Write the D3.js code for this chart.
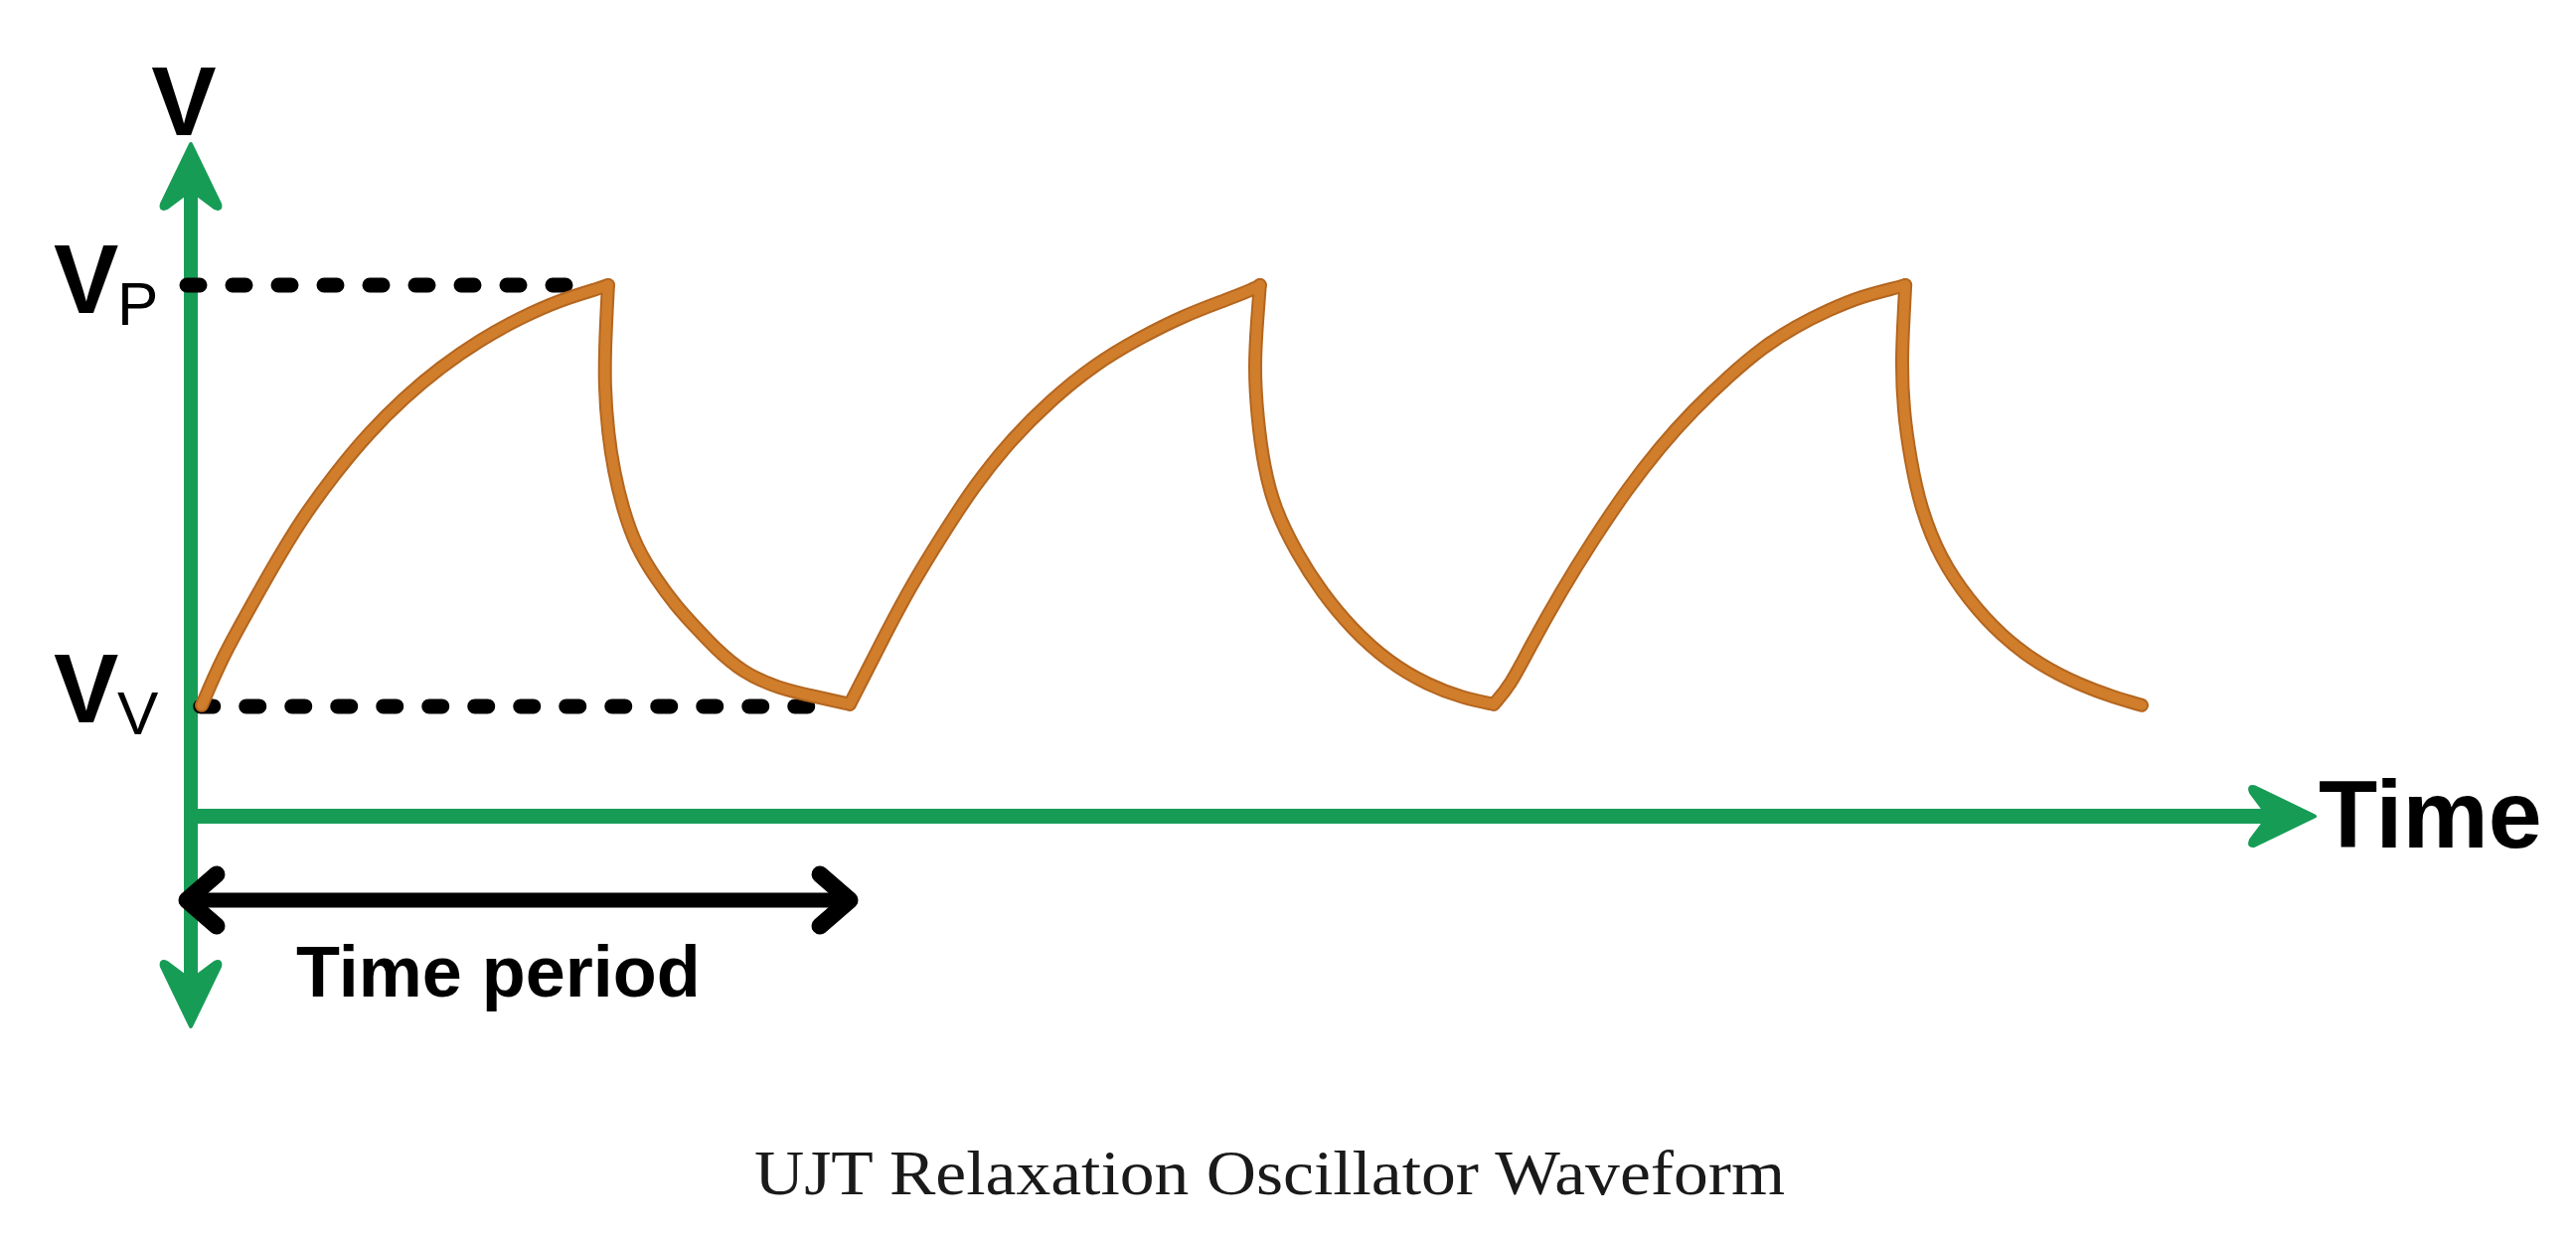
<!DOCTYPE html>
<html>
<head>
<meta charset="utf-8">
<script src="https://cdn.jsdelivr.net/npm/d3@7"></script>
<style>
  body { margin: 0; background: #fff; }
  svg { display: block; }
  text { font-family: "Liberation Sans", Arial, sans-serif; }
</style>
</head>
<body>
<script>
var width = 2592,
    height = 1244;

// time in ms (one period is a little over 1 ms), voltage in V (Vp = 10)
var timeRange  = [0, 3.283];
var voltRange  = [-3.9, 12.6];
var peakVolt   = 10.0;
var valleyVolt = 2.07;
var periodSpan = [0, 1.02];
var peakDots   = [0, 0.58];
var valleyDots = [0.015, 0.96];

// waveform, [t, v], one array per stroke
var rise1 = [[0.017, 2.09], [0.048, 2.97], [0.085, 3.78], [0.125, 4.65], [0.171, 5.59],
             [0.223, 6.45], [0.274, 7.20], [0.331, 7.89], [0.386, 8.45], [0.448, 8.97],
             [0.509, 9.38], [0.571, 9.72], [0.638, 9.96], [0.646, 10.0]];
var drop1 = [[0.646, 10.0], [0.642, 9.07], [0.640, 8.13], [0.646, 7.20], [0.655, 6.49],
             [0.669, 5.78], [0.689, 5.08], [0.720, 4.47], [0.751, 3.96], [0.782, 3.55],
             [0.812, 3.16], [0.854, 2.71], [0.909, 2.41], [0.971, 2.24], [1.020, 2.11]];
var rise2 = [[1.020, 2.11], [1.043, 2.65], [1.074, 3.40], [1.115, 4.34], [1.162, 5.27],
             [1.212, 6.21], [1.269, 7.08], [1.331, 7.83], [1.397, 8.49], [1.469, 9.01],
             [1.540, 9.44], [1.602, 9.72], [1.648, 9.94], [1.655, 10.0]];
var drop2 = [[1.655, 10.0], [1.651, 9.38], [1.646, 8.45], [1.651, 7.51], [1.661, 6.58],
             [1.678, 5.78], [1.712, 4.95], [1.751, 4.21], [1.797, 3.53], [1.854, 2.90],
             [1.915, 2.47], [1.971, 2.22], [2.017, 2.11]];
var rise3 = [[2.017, 2.11], [2.043, 2.47], [2.074, 3.21], [2.120, 4.21], [2.171, 5.21],
             [2.223, 6.15], [2.274, 6.95], [2.325, 7.64], [2.382, 8.30], [2.432, 8.82],
             [2.485, 9.23], [2.535, 9.53], [2.586, 9.79], [2.643, 9.96], [2.654, 10.0]];
var drop3 = [[2.654, 10.0], [2.652, 9.51], [2.648, 8.58], [2.651, 7.64], [2.662, 6.71],
             [2.678, 5.78], [2.709, 4.84], [2.751, 4.09], [2.802, 3.40], [2.863, 2.84],
             [2.925, 2.47], [2.977, 2.24], [3.020, 2.09]];

var axisLabelV  = "V";
var peakLabel   = ["V", "P"];
var valleyLabel = ["V", "V"];
var timeLabel   = "Time";
var periodLabel = "Time period";
var titleText   = "UJT Relaxation Oscillator Waveform";

var green  = "#179c56",
    orange = "#d07d2c",
    orangeEdge = "#b4661f";

var svg = d3.select("body")
    .append("svg")
    .attr("width", width)
    .attr("height", height);

svg.append("rect")
    .attr("width", width)
    .attr("height", height)
    .attr("fill", "#fff");

var x = d3.scaleLinear().domain(timeRange).range([192, 2326]);
var y = d3.scaleLinear().domain(voltRange).range([1030, 148]);

/**
 * Filled notched arrow head, pointing right, tip at the origin.
 */
var headPath = "M3,0 L-57,-29 Q-64,-31 -61,-24 L-43,0 L-61,24 Q-64,31 -57,29 Z";

function arrowHead(g, px, py, angle, colour) {
    g.append("path")
        .attr("d", headPath)
        .attr("transform", "translate(" + px + "," + py + ") rotate(" + angle + ")")
        .attr("fill", colour)
        .attr("stroke", colour)
        .attr("stroke-width", 4)
        .attr("stroke-linejoin", "round");
}

// axes
var axes = svg.append("g");

axes.append("line")
    .attr("x1", x(0)).attr("x2", x(0))
    .attr("y1", y(voltRange[1]) + 12).attr("y2", y(voltRange[0]) - 12)
    .attr("stroke", green)
    .attr("stroke-width", 14);

axes.append("line")
    .attr("x1", x(0) - 6).attr("x2", x(timeRange[1]) - 25)
    .attr("y1", y(0)).attr("y2", y(0))
    .attr("stroke", green)
    .attr("stroke-width", 15);

arrowHead(axes, x(0), y(voltRange[1]), -90, green);
arrowHead(axes, x(0), y(voltRange[0]), 90, green);
arrowHead(axes, x(timeRange[1]), y(0), 0, green);

// dotted Vp and Vv levels
svg.append("line")
    .attr("x1", x(peakDots[0]) - 4).attr("x2", x(peakDots[1]))
    .attr("y1", y(peakVolt)).attr("y2", y(peakVolt))
    .attr("stroke", "#000")
    .attr("stroke-width", 15)
    .attr("stroke-linecap", "round")
    .attr("stroke-dasharray", "13 33");

svg.append("line")
    .attr("x1", x(valleyDots[0])).attr("x2", x(valleyDots[1]))
    .attr("y1", y(valleyVolt)).attr("y2", y(valleyVolt))
    .attr("stroke", "#000")
    .attr("stroke-width", 15)
    .attr("stroke-linecap", "round")
    .attr("stroke-dasharray", "13 33");

// waveform, a darker edge under the orange stroke
var line = d3.line()
    .x(function(d) { return x(d[0]); })
    .y(function(d) { return y(d[1]); })
    .curve(d3.curveBasis);

var strokes = [rise1, drop1, rise2, drop2, rise3, drop3];

[[orangeEdge, 14], [orange, 10]].forEach(function(s) {
    svg.append("g")
        .selectAll("path")
        .data(strokes)
        .enter()
        .append("path")
        .attr("d", line)
        .attr("fill", "none")
        .attr("stroke", s[0])
        .attr("stroke-width", s[1])
        .attr("stroke-linecap", "round")
        .attr("stroke-linejoin", "round");
});

// time period arrow
var periodY = 906;
var period = svg.append("g")
    .attr("stroke", "#000")
    .attr("fill", "none")
    .attr("stroke-linecap", "round")
    .attr("stroke-linejoin", "round");

period.append("line")
    .attr("x1", x(periodSpan[0]) - 2).attr("x2", x(periodSpan[1]) - 4)
    .attr("y1", periodY).attr("y2", periodY)
    .attr("stroke-width", 15);

[[x(periodSpan[0]) - 4, 1], [x(periodSpan[1]), -1]].forEach(function(p) {
    period.append("path")
        .attr("d", d3.line()([[p[0] + 30 * p[1], periodY - 26], [p[0], periodY], [p[0] + 30 * p[1], periodY + 26]]))
        .attr("stroke-width", 17);
});

// labels
svg.append("text")
    .attr("x", x(0) - 7)
    .attr("y", 136)
    .attr("text-anchor", "middle")
    .attr("font-size", 98)
    .attr("font-weight", "bold")
    .text(axisLabelV);

function levelLabel(lab, base, subBase) {
    var t = svg.append("text")
        .attr("y", base)
        .attr("font-size", 98)
        .attr("font-weight", "bold");
    t.append("tspan").attr("x", 54).text(lab[0]);
    t.append("tspan")
        .attr("x", 118)
        .attr("y", subBase)
        .attr("font-size", 62)
        .attr("font-weight", "normal")
        .text(lab[1]);
}
levelLabel(peakLabel, 315, 327);
levelLabel(valleyLabel, 727, 739);

svg.append("text")
    .attr("x", 2333)
    .attr("y", 853)
    .attr("font-size", 97)
    .attr("font-weight", "bold")
    .text(timeLabel);

svg.append("text")
    .attr("x", 298)
    .attr("y", 1003)
    .attr("font-size", 72)
    .attr("font-weight", "bold")
    .text(periodLabel);

svg.append("text")
    .attr("x", 759)
    .attr("y", 1202)
    .attr("font-size", 64)
    .attr("fill", "#1a1a1a")
    .attr("textLength", 1037)
    .attr("lengthAdjust", "spacingAndGlyphs")
    .style("font-family", "'Liberation Serif', 'Times New Roman', serif")
    .text(titleText);
</script>
</body>
</html>
